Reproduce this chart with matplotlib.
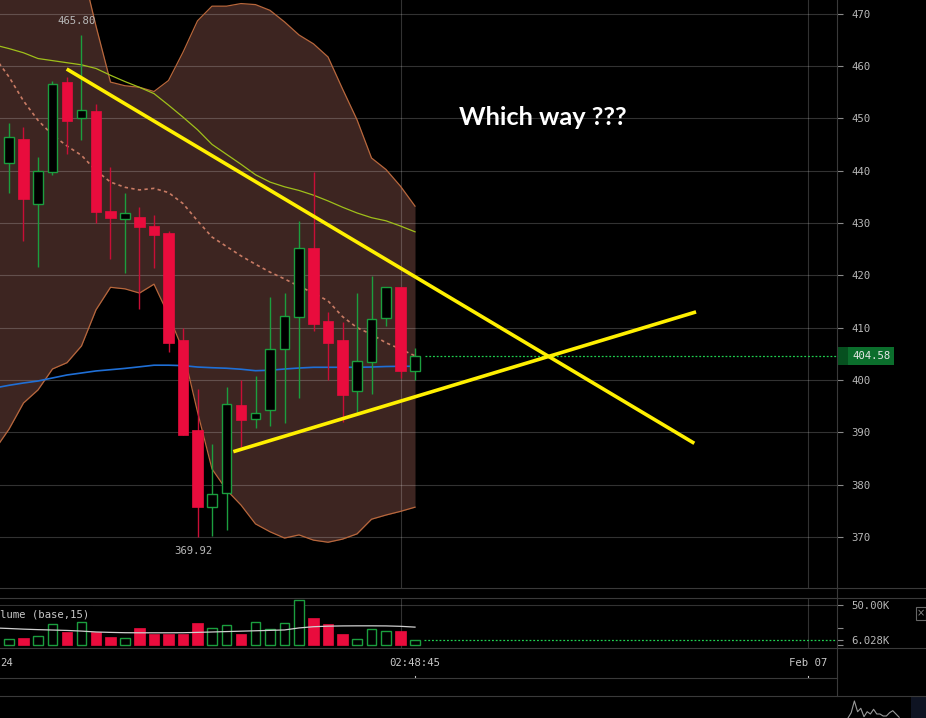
import numpy as np
import matplotlib
matplotlib.use("Agg")
import matplotlib.pyplot as plt
import matplotlib.transforms as mtransforms
from matplotlib.patches import Rectangle

# --- candle data (one candle per index) ---
opens = [441.4, 446.0, 433.7, 439.8, 456.9, 450.0, 451.4, 432.3, 430.8, 431.1,
         429.4, 428.1, 407.6, 390.45, 375.8, 378.35, 395.2, 392.5, 394.2, 406.0,
         412.0, 425.2, 411.2, 407.6, 397.8, 403.4, 411.8, 417.8, 401.8]
highs = [449.0, 448.3, 442.5, 457.1, 457.9, 465.8, 452.7, 440.6, 435.8, 433.1,
         431.6, 428.45, 409.9, 398.2, 387.7, 398.7, 399.9, 400.8, 415.8, 416.7,
         430.4, 439.8, 413.0, 411.0, 416.55, 419.8, 417.7, 417.8, 406.05]
lows = [435.65, 426.6, 421.6, 439.2, 443.1, 445.8, 430.0, 423.1, 420.4, 413.55,
        421.3, 405.3, 389.5, 369.92, 370.2, 371.3, 387.25, 390.8, 391.3, 391.7,
        396.5, 409.35, 400.0, 392.0, 393.9, 397.3, 410.3, 400.3, 400.0]
closes = [446.35, 434.6, 439.9, 456.5, 449.5, 451.5, 432.1, 431.0, 431.8, 429.3,
          427.7, 407.1, 389.5, 375.8, 378.2, 395.35, 392.35, 393.6, 406.0, 412.2,
          425.3, 410.7, 407.1, 397.2, 403.6, 411.6, 417.7, 401.8, 404.58]
volumes = [7.7, 9.3, 11.4, 26.2, 16.7, 29.4, 15.9, 10.6, 9.0, 21.6,
           14.6, 14.6, 14.6, 27.8, 21.3, 25.0, 14.6, 28.6, 20.0, 27.4,
           55.7, 33.9, 26.6, 14.6, 7.7, 20.0, 17.6, 18.0, 6.028]  # thousands

# --- indicators (start one candle before the first visible candle) ---
band_upper = [490.0, 489.0, 488.0, 487.0, 485.5, 483.0, 479.1, 467.6, 456.9, 456.2,
              455.9, 455.1, 457.2, 462.6, 468.6, 471.4, 471.4, 471.9, 471.7, 470.6,
              468.4, 465.9, 464.2, 461.7, 455.6, 449.7, 442.4, 440.2, 437.0, 433.2]
band_lower = [386.6, 390.6, 395.6, 398.1, 402.1, 403.3, 406.5, 413.4, 417.7, 417.4,
              416.6, 418.3, 412.4, 405.7, 393.9, 383.0, 379.0, 376.1, 372.5, 371.0,
              369.8, 370.4, 369.4, 369.0, 369.6, 370.6, 373.4, 374.2, 374.9, 375.7]
ma_slow = [464.0, 463.3, 462.5, 461.4, 461.0, 460.6, 460.2, 459.5, 458.2, 457.0,
           455.9, 454.7, 452.5, 450.2, 447.8, 445.0, 443.1, 441.2, 439.2, 437.8,
           436.9, 436.2, 435.3, 434.2, 433.0, 431.9, 431.0, 430.4, 429.4, 428.3]
ma_mid = [461.7, 457.9, 453.3, 449.6, 446.8, 444.7, 442.9, 440.0, 437.8, 436.8,
          436.3, 436.6, 435.8, 433.7, 430.4, 427.3, 425.5, 423.7, 422.1, 420.6,
          419.3, 417.9, 416.6, 415.1, 412.1, 410.0, 408.7, 407.1, 405.9, 404.6]
ma_long = [398.46, 398.98, 399.42, 399.80, 400.38, 400.95, 401.33, 401.72, 401.96, 402.21,
           402.51, 402.82, 402.82, 402.74, 402.47, 402.34, 402.24, 402.05, 401.77, 401.86,
           402.09, 402.28, 402.42, 402.42, 402.42, 402.42, 402.47, 402.57, 402.61, 402.61]
vol_ma = [21.5, 20.8, 20.0, 19.4, 18.9, 18.4, 17.6, 16.5, 16.0, 15.6,
          15.5, 15.5, 15.5, 15.6, 16.0, 16.5, 17.0, 17.5, 18.0, 18.5,
          19.0, 21.5, 23.0, 23.7, 24.0, 24.1, 24.1, 24.0, 23.5, 22.5]

# hand drawn trend lines (candle index, price)
trend_down = ([3.98, 47.26], [459.4, 387.9])
trend_up = ([15.47, 47.38], [386.3, 413.0])

price_ticks = list(range(370, 471, 10))
time_grid = [27, 55.1]
time_labels = [(28, "02:48:45"), (55.1, "Feb 07")]
nav_values = [0, 5.3, 17, 6.3, 9.7, 1.3, 6.3, 4, 8.7, 4, 4, 2, 2, 5.3, 7.3, 4, 0.7]

RED = "#e90c3d"
RED_WICK = "#c80e36"
GREEN = "#1b9e3e"
GRID = "#3a3a3a"
MONO = "DejaVu Sans Mono"
LBL = "#b8b8b8"

W, H = 926, 718
fig = plt.figure(figsize=(W / 100, H / 100), dpi=100, facecolor="black")


def px_axes(x0, y0, x1, y1):
    a = fig.add_axes([x0 / W, 1 - y1 / H, (x1 - x0) / W, (y1 - y0) / H])
    a.set_facecolor("black")
    for s in a.spines.values():
        s.set_visible(False)
    return a


idx = np.arange(len(opens))
ind_x = np.arange(-1, len(opens))
xlim = (-0.62, 57.1)
up = np.array(closes) >= np.array(opens)

# ---------------- main price panel ----------------
ax = px_axes(0, 0, 837, 588)
ax.set_xlim(*xlim)
ax.set_ylim(360.26, 472.58)

ax.fill_between(ind_x, band_lower, band_upper, color="#3d2521", lw=0, zorder=0.5)
for p in price_ticks:
    ax.axhline(p, color="white", alpha=0.2, lw=0.8, zorder=1)
for t in time_grid:
    ax.axvline(t, color="white", alpha=0.2, lw=0.8, zorder=1)

ax.plot(ind_x, band_upper, color="#b8673c", lw=0.9, zorder=2)
ax.plot(ind_x, band_lower, color="#b8673c", lw=0.9, zorder=2)
ax.plot(ind_x, ma_slow, color="#9fbf1a", lw=0.9, zorder=2)
ax.plot(ind_x, ma_mid, color="#c97b64", lw=1.2, ls=(0, (2, 2)), zorder=2)
ax.plot(ind_x, ma_long, color="#1f6fd6", lw=1.2, zorder=2)

ax.vlines(idx[up], np.array(lows)[up], np.array(highs)[up], color=GREEN, lw=1, zorder=3)
ax.vlines(idx[~up], np.array(lows)[~up], np.array(highs)[~up], color=RED_WICK, lw=1, zorder=3)
body_lo = np.minimum(opens, closes)
body_h = np.maximum(np.abs(np.array(closes) - np.array(opens)), 0.3)
ax.bar(idx[up], body_h[up], bottom=body_lo[up], width=0.68, facecolor="black",
       edgecolor=GREEN, lw=1.0, zorder=4)
ax.bar(idx[~up], body_h[~up], bottom=body_lo[~up], width=0.72, facecolor=RED,
       edgecolor=RED, lw=0.5, zorder=4)

ax.plot(*trend_down, color="#fff000", lw=2.6, solid_capstyle="butt", zorder=5)
ax.plot(*trend_up, color="#fff000", lw=2.6, solid_capstyle="butt", zorder=5)

hi_i = int(np.argmax(highs))
lo_i = int(np.argmin(lows))
ax.annotate(f"{highs[hi_i]:.2f}", xy=(hi_i, highs[hi_i]), xytext=(-5, 14),
            textcoords="offset pixels", ha="center", va="center",
            color=LBL, family=MONO, fontsize=7.7, zorder=6)
ax.annotate(f"{lows[lo_i]:.2f}", xy=(lo_i, lows[lo_i]), xytext=(-4.5, -13.5),
            textcoords="offset pixels", ha="center", va="center",
            color=LBL, family=MONO, fontsize=7.7, zorder=6)

ax.text(36.83, 450.1, "Which way ???", color="white", fontsize=18.3,
        fontweight="bold", family="Lato", ha="center", va="center", zorder=6)

# last price line and box
last = closes[-1]
ax.plot([idx[-1] + 0.7, xlim[1]], [last, last], color="#1fcf4f", lw=0.9,
        ls=(0, (1.5, 1.5)), zorder=2)
ax.yaxis.tick_right()
ax.set_yticks(price_ticks)
ax.set_xticks([])
ax.tick_params(axis="y", colors="#8a8a8a", length=4.5, width=0.8, pad=6,
               labelsize=7.7, labelcolor=LBL, labelfontfamily=MONO)
blend = mtransforms.blended_transform_factory(ax.transAxes, ax.transData)
half = 9.2 / 5.235
ax.add_patch(Rectangle((1.0, last - half), 57 / 837, 2 * half, transform=blend,
                       facecolor="#0b6e2c", edgecolor="none", clip_on=False, zorder=7))
ax.add_patch(Rectangle((1.0, last - half), 11 / 837, 2 * half, transform=blend,
                       facecolor="#06501f", edgecolor="none", clip_on=False, zorder=7))
ax.text(1 + 15 / 837, last, f"{last:.2f}", transform=blend, color="#e8e8e8",
        family=MONO, fontsize=7.7, va="center", ha="left", clip_on=False, zorder=8)

# ---------------- volume panel ----------------
axv = px_axes(0, 598, 837, 648)
axv.set_xlim(*xlim)
axv.set_ylim(-3.3, 58.5)
axv.axhline(50, color="white", alpha=0.2, lw=0.8, zorder=1)
for t in time_grid:
    axv.axvline(t, color="white", alpha=0.2, lw=0.8, zorder=1)
vol = np.array(volumes)
axv.bar(idx[up], vol[up], width=0.68, facecolor="black", edgecolor=GREEN, lw=1.0, zorder=3)
axv.bar(idx[~up], vol[~up], width=0.72, facecolor=RED, edgecolor=RED, lw=0.5, zorder=3)
axv.plot(ind_x, vol_ma, color="#d0d0d0", lw=0.9, zorder=4)
axv.plot([idx[-1] + 0.6, xlim[1]], [volumes[-1]] * 2, color="#1fcf4f", lw=0.9,
         ls=(0, (1.5, 1.5)), zorder=2)
# the legend is scrolled off the left edge in the original: only "lume" shows
axv.text(0.5 / 837, 0.674, "lume (base,15)", transform=axv.transAxes,
         color="#c8c8c8", family=MONO, fontsize=7.7, va="center", ha="left",
         bbox=dict(facecolor="black", edgecolor="none", pad=2.5), zorder=2.5)
axv.yaxis.tick_right()
axv.set_yticks([0, 22, 50, volumes[-1]])
axv.set_yticklabels(["", "", "50.00K", f"{volumes[-1]:.3f}K"])
axv.set_xticks([])
axv.tick_params(axis="y", colors="#8a8a8a", length=4.5, width=0.8, pad=6,
                labelsize=7.7, labelcolor=LBL, labelfontfamily=MONO)
axv.yaxis.get_major_ticks()[3].tick2line.set_color("#1fcf4f")

# ---------------- time axis ----------------
axt = px_axes(0, 648, 837, 678)
axt.set_xlim(*xlim)
axt.set_ylim(0, 1)
axt.set_xticks([])
axt.set_yticks([])
axt.text(0, 0.51, "24", transform=axt.transAxes, color="#c8c8c8", family=MONO,
         fontsize=7.7, ha="left", va="center")
for x, s in time_labels:
    axt.text(x, 0.51, s, color="#c8c8c8", family=MONO, fontsize=7.7,
             ha="center", va="center")
    axt.plot([x, x], [0.0, 0.08], color="#c8c8c8", lw=0.8)

# ---------------- navigator strip ----------------
axn = px_axes(840, 696, 911, 718)
axn.set_xlim(-2.5, 19.7)
axn.set_ylim(0, 22)
axn.set_xticks([])
axn.set_yticks([])
axn.plot(np.arange(len(nav_values)), nav_values, color="#9a9a9a", lw=0.8)
fig.add_artist(Rectangle((911 / W, 0), 15 / W, 22 / H, transform=fig.transFigure,
                         facecolor="#0e1322", edgecolor="none"))

# separators and axis line
for y, x1 in [(588, W), (598, W), (648, W), (678, 837), (696, W)]:
    fig.add_artist(plt.Line2D([0, x1 / W], [1 - y / H] * 2, transform=fig.transFigure,
                              color=GRID, lw=0.8))
fig.add_artist(plt.Line2D([837 / W] * 2, [1 - 696 / H, 1], transform=fig.transFigure,
                          color=GRID, lw=0.8))
fig.text(921 / W, 1 - 613.5 / H, "×", color="#888888", fontsize=7, ha="center",
         va="center", bbox=dict(facecolor="black", edgecolor="#666666", pad=0.8, lw=0.8))

fig.savefig("out.png", dpi=100, facecolor="black")
